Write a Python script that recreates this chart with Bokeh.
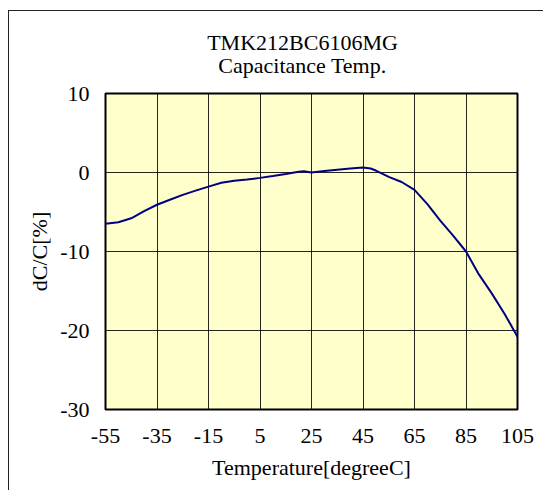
from bokeh.plotting import figure
from bokeh.models import FixedTicker, Title
from bokeh.embed import file_html
from bokeh.resources import INLINE

# Data
temps = [-55, -50, -45, -40, -35, -30, -25, -20, -15, -10, -5, 0, 5, 10, 15, 20, 22,
         25, 30, 35, 40, 45, 48, 50, 55, 60, 65, 70, 75, 80, 85, 90, 95, 100, 105]
dcc = [-6.5, -6.3, -5.8, -4.9, -4.08, -3.45, -2.83, -2.29, -1.79, -1.3, -1.05, -0.9,
       -0.68, -0.45, -0.2, 0.1, 0.15, 0.0, 0.18, 0.35, 0.5, 0.62, 0.5, 0.25, -0.55, -1.2,
       -2.2, -4.0, -6.1, -8.0, -10.0, -12.9, -15.3, -17.9, -20.8]
x_ticks = [-55, -35, -15, 5, 25, 45, 65, 85, 105]
x_tick_labels = ["-55", "-35", "-15", "5", "25", "45", "65", "85", "105"]
y_ticks = [-30, -20, -10, 0, 10]
y_tick_labels = ["-30", "-20", "-10", "0", "10"]
title_lines = ["TMK212BC6106MG", "Capacitance Temp."]
x_label = "Temperature[degreeC]"
y_label = "dC/C[%]"

FONT = "Liberation Serif"
FS = "22px"

p = figure(width=535, height=480, output_backend="svg", toolbar_location=None,
           x_range=(-55, 105), y_range=(-30, 10),
           min_border_left=96, min_border_right=27, min_border_top=81, min_border_bottom=82)
p.styles = {"margin-left": "8px", "margin-top": "10px",
            "border-left": "1px solid #222", "border-top": "1px solid #222"}

p.background_fill_color = "#FFFFCC"
p.border_fill_color = "white"
p.outline_line_color = "black"
p.outline_line_width = 2

p.line(temps, dcc, line_color="#000080", line_width=2)

for ax in (p.xaxis[0], p.yaxis[0]):
    ax.axis_line_color = None
    ax.major_tick_line_color = None
    ax.minor_tick_line_color = None
    ax.major_tick_out = 0
    ax.major_tick_in = 0
    ax.major_label_text_font = FONT
    ax.major_label_text_font_size = FS
    ax.major_label_text_color = "black"
    ax.axis_label_text_font = FONT
    ax.axis_label_text_font_size = FS
    ax.axis_label_text_font_style = "normal"
    ax.axis_label_text_color = "black"

p.xaxis.ticker = FixedTicker(ticks=x_ticks)
p.yaxis.ticker = FixedTicker(ticks=y_ticks)
p.xaxis.major_label_overrides = dict(zip(x_ticks, x_tick_labels))
p.yaxis.major_label_overrides = dict(zip(y_ticks, y_tick_labels))
p.xaxis.major_label_standoff = 19
p.yaxis.major_label_standoff = 16
p.xaxis.axis_label = x_label
p.yaxis.axis_label = y_label
p.xaxis.axis_label_standoff = 9
p.yaxis.axis_label_standoff = 5

p.xgrid.ticker = FixedTicker(ticks=x_ticks)
p.ygrid.ticker = FixedTicker(ticks=y_ticks)
p.grid.grid_line_color = "black"
p.grid.grid_line_width = 1
p.grid.grid_line_alpha = 0.85

p.title = None
p.add_layout(Title(text="\n".join(title_lines), text_font=FONT, text_font_size=FS,
                   text_font_style="normal", text_color="black", align="center",
                   text_align="center", text_line_height=0.9, standoff=32,
                   padding=(0, 18, 0, 0)), "above")

open("out.html", "w").write(file_html(p, INLINE))
